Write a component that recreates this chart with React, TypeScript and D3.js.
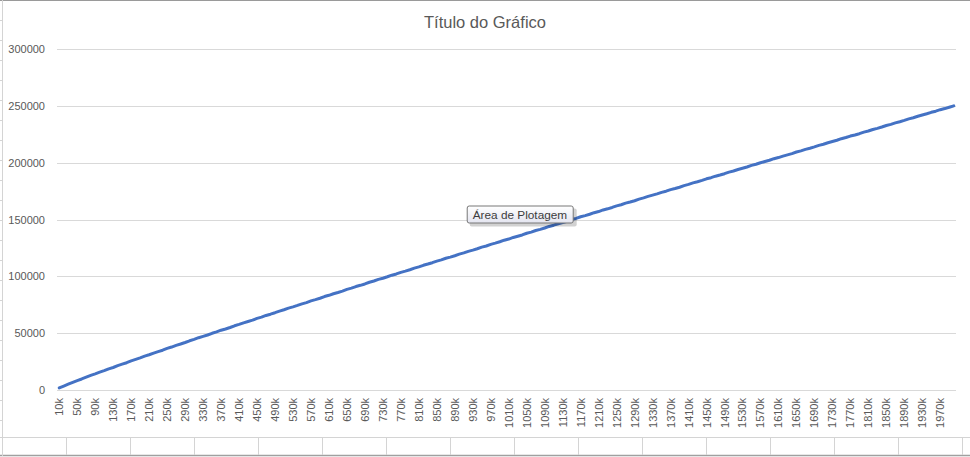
import * as d3 from "d3";

// Excel-style line chart: one series over 200 categories (10k .. 2000k)
const title = "Título do Gráfico";
const tooltipText = "Área de Plotagem";

const categories = d3.range(10, 2001, 10).map((k) => `${k}k`);

const values = [
  1900, 3500, 5200, 6800, 8300, 9700, 11300, 12800, 14200, 15700,
  17000, 18600, 19800, 21400, 22700, 24000, 25600, 26900, 28200, 29800,
  31000, 32500, 33800, 35000, 36600, 37800, 39300, 40500, 41800, 43300,
  44500, 46000, 47200, 48400, 49900, 51100, 52600, 53700, 55000, 56500,
  57700, 59100, 60300, 61500, 63000, 64100, 65600, 66700, 68000, 69400,
  70600, 72000, 73100, 74400, 75800, 76900, 78400, 79500, 80700, 82200,
  83300, 84700, 85800, 87000, 88500, 89600, 91000, 92100, 93300, 94800,
  95900, 97300, 98300, 99600, 101000, 102100, 103500, 104600, 105800, 107200,
  108300, 109700, 110800, 112000, 113400, 114500, 115900, 116900, 118100, 119500,
  120600, 122000, 123100, 124300, 125700, 126700, 128100, 129200, 130400, 131800,
  132800, 134200, 135300, 136400, 137900, 138900, 140300, 141300, 142500, 143900,
  145000, 146300, 147400, 148500, 150000, 151000, 152400, 153400, 154600, 156000,
  157000, 158400, 159400, 160600, 162000, 163000, 164400, 165400, 166500, 167900,
  169000, 170300, 171400, 172500, 173900, 174900, 176300, 177300, 178400, 179800,
  180900, 182200, 183200, 184400, 185800, 186800, 188100, 189100, 190300, 191700,
  192700, 194000, 195100, 196200, 197600, 198600, 199900, 201000, 202100, 203500,
  204500, 205800, 206900, 208000, 209400, 210400, 211700, 212700, 213900, 215200,
  216200, 217500, 218600, 219700, 221100, 222100, 223400, 224400, 225500, 226900,
  227900, 229200, 230200, 231400, 232700, 233700, 235000, 236000, 237200, 238500,
  239500, 240800, 241900, 243000, 244300, 245300, 246600, 247600, 248800, 250000,
];

const yTicks = [0, 50000, 100000, 150000, 200000, 250000, 300000];

const W = 970;
const H = 457;
const font = "'Liberation Sans', Arial, sans-serif";

export default function App() {
  const plot = { left: 57, right: 956, top: 49, bottom: 390 };

  const x = d3.scaleBand().domain(categories).range([plot.left, plot.right]).paddingInner(0).paddingOuter(0);
  const y = d3.scaleLinear().domain([0, 300000]).range([plot.bottom, plot.top]);

  const cx = (c: string) => (x(c) ?? 0) + x.bandwidth() / 2;

  const line = d3
    .line<number>()
    .x((_, i) => cx(categories[i]))
    .y((d) => y(d))
    .curve(d3.curveLinear);

  const shownLabels = categories.filter((_, i) => i % 4 === 0);

  // spreadsheet cells behind the chart object
  const cellCols = d3.range(2, W, 64);
  const rowTicks = d3.range(20, 437, 20);

  // tooltip box anchored near the 1090k category, 150000 level
  const tipX = cx("1090k") - 78;
  const tipY = y(150000) - 14;

  return (
    <svg
      width={W}
      height={H}
      style={{ position: "absolute", left: 0, top: 0, background: "#fff" }}
    >
      <defs>
        <linearGradient id="tipGrad" x1="0" y1="0" x2="0" y2="1">
          <stop offset="0%" stopColor="#ffffff" />
          <stop offset="100%" stopColor="#e4e5f0" />
        </linearGradient>
      </defs>

      {/* sheet frame */}
      <line x1={0} x2={W} y1={0.5} y2={0.5} stroke="#9a9a9a" />
      <line x1={0} x2={W} y1={437.5} y2={437.5} stroke="#d4d4d4" />
      <line x1={0} x2={W} y1={455.5} y2={455.5} stroke="#a0a0a0" strokeWidth={1.5} />
      <line x1={2.5} x2={2.5} y1={0} y2={456} stroke="#d4d4d4" />
      {rowTicks.map((r) => (
        <line key={r} x1={0} x2={2} y1={r + 0.5} y2={r + 0.5} stroke="#d4d4d4" />
      ))}
      {cellCols.map((c) => (
        <line key={c} x1={c + 0.5} x2={c + 0.5} y1={437} y2={455} stroke="#d4d4d4" />
      ))}

      {/* title */}
      <text
        x={W / 2}
        y={28}
        textAnchor="middle"
        fontFamily={font}
        fontSize={16.5}
        fill="#595959"
      >
        {title}
      </text>

      {/* gridlines + y labels */}
      {yTicks.map((t) => (
        <g key={t}>
          <line
            x1={plot.left}
            x2={plot.right}
            y1={Math.round(y(t)) + 0.5}
            y2={Math.round(y(t)) + 0.5}
            stroke="#d9d9d9"
          />
          <text
            x={45}
            y={y(t) + 4}
            textAnchor="end"
            fontFamily={font}
            fontSize={11}
            fill="#595959"
          >
            {t}
          </text>
        </g>
      ))}

      {/* x labels */}
      {shownLabels.map((c) => (
        <text
          key={c}
          transform={`translate(${cx(c) + 4},${398}) rotate(-90)`}
          textAnchor="end"
          fontFamily={font}
          fontSize={11}
          fill="#595959"
        >
          {c}
        </text>
      ))}

      {/* series */}
      <path
        d={line(values) ?? ""}
        fill="none"
        stroke="#4472c4"
        strokeWidth={3}
        strokeLinejoin="round"
        strokeLinecap="round"
      />

      {/* hover tooltip */}
      <g transform={`translate(${tipX},${tipY})`}>
        <rect x={3} y={3} width={107} height={18} rx={2} fill="#000" opacity={0.18} />
        <rect
          x={0.5}
          y={0.5}
          width={106}
          height={17}
          rx={2}
          fill="url(#tipGrad)"
          stroke="#767676"
        />
        <text x={6} y={13} fontFamily={font} fontSize={11.8} fill="#3c3c3c">
          {tooltipText}
        </text>
      </g>
    </svg>
  );
}
